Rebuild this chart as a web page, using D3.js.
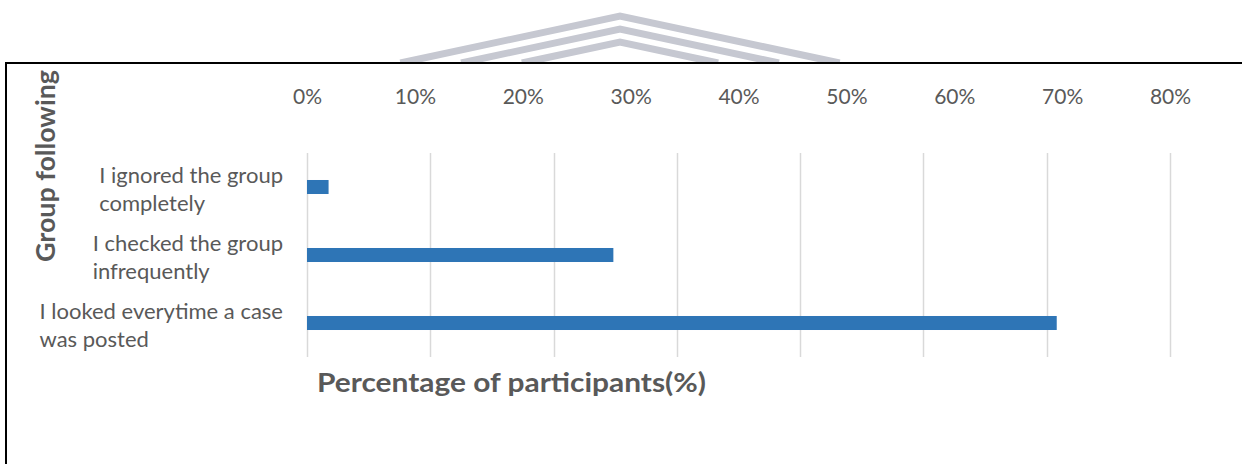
<!DOCTYPE html>
<html>
<head>
<meta charset="utf-8">
<script src="https://cdn.jsdelivr.net/npm/d3@7"></script>
<style>
  body { margin: 0; background: #fff; }
  text { font-family: Lato, "Open Sans", sans-serif; fill: #595959; }
</style>
</head>
<body>
<svg id="chart" width="1242" height="464"></svg>
<script>
// data
var categories = ["I ignored the group completely", "I checked the group infrequently", "I looked everytime a case was posted"];
var labelLines = [["I ignored the group", "completely"], ["I checked the group", "infrequently"], ["I looked everytime a case", "was posted"]];
var values = [0.020, 0.284, 0.695];
var tickValues = [0, 0.1, 0.2, 0.3, 0.4, 0.5, 0.6, 0.7, 0.8];
var tickLabels = ["0%", "10%", "20%", "30%", "40%", "50%", "60%", "70%", "80%"];

var svg = d3.select("#chart");

// faint watermark chevrons behind the frame
var mark = svg.append("g");
[16, 29, 42].forEach(function(top) {
  var half = (63 - top) / 0.214;
  mark.append("path")
    .attr("d", "M" + (620 - half) + "," + 63 + " L620," + top + " L" + (620 + half) + ",63")
    .style("fill", "none")
    .style("stroke", "#c6c8d1")
    .style("stroke-width", 7);
});
svg.append("rect").attr("x", 0).attr("y", 63).attr("width", 1242).attr("height", 401).style("fill", "#fff");

// frame
svg.append("path")
  .attr("d", "M5,63 H1242 M6,63 V464")
  .style("fill", "none")
  .style("stroke", "#000")
  .style("stroke-width", 2);

var x = d3.scaleLinear().domain([0, 0.8]).range([307, 1170]);
var y = d3.scaleBand().domain(categories).range([153, 357]).paddingInner(0.794).paddingOuter(0.397);

// gridlines (the original spreads 8 lines over the axis)
var gridVals = d3.range(8).map(function(i) { return 0.8 * i / 7; });
svg.append("g").selectAll("line")
  .data(gridVals)
  .join("line")
    .attr("x1", function(d) { return Math.round(x(d)) + 0.5; })
    .attr("x2", function(d) { return Math.round(x(d)) + 0.5; })
    .attr("y1", 153)
    .attr("y2", 357)
    .style("stroke", "#d9d9d9")
    .style("stroke-width", 1.5);

// top tick labels
var axis = d3.axisTop(x).tickValues(tickValues).tickSize(0)
  .tickFormat(function(d, i) { return tickLabels[i]; });
var ax = svg.append("g").attr("transform", "translate(0,104)").call(axis);
ax.select(".domain").remove();
ax.selectAll("text")
  .attr("dy", 0)
  .attr("y", 0)
  .style("font-size", "21px")
  .style("fill", "#595959")
  .style("font-family", "Lato, sans-serif");

// bars
svg.append("g").selectAll("rect")
  .data(values)
  .join("rect")
    .attr("x", x(0))
    .attr("y", function(d, i) { return y(categories[i]); })
    .attr("width", function(d) { return x(d) - x(0); })
    .attr("height", y.bandwidth())
    .style("fill", "#2e75b6");

// category labels
var lab = svg.append("g").selectAll("g")
  .data(categories)
  .join("g")
    .attr("transform", function(d) { return "translate(0," + (y(d) + y.bandwidth() / 2) + ")"; });
lab.each(function(d, i) {
  var lines = labelLines[i];
  var g = d3.select(this);
  var t = g.append("text").style("font-size", "22px");
  lines.forEach(function(s, j) {
    t.append("tspan").attr("x", 0).attr("y", -4 + j * 28).text(s);
  });
  var w = t.node().getBBox().width;
  t.attr("transform", "translate(" + (283 - w) + ",0)");
});

// axis titles
svg.append("text")
  .attr("x", 317)
  .attr("y", 392)
  .attr("textLength", 389)
  .attr("lengthAdjust", "spacingAndGlyphs")
  .style("font-size", "27px")
  .style("font-weight", "bold")
  .text("Percentage of participants(%)");

svg.append("text")
  .attr("transform", "translate(55,166) rotate(-90)")
  .attr("text-anchor", "middle")
  .attr("textLength", 192)
  .attr("lengthAdjust", "spacingAndGlyphs")
  .style("font-size", "26px")
  .style("font-weight", "bold")
  .text("Group following");
</script>
</body>
</html>
